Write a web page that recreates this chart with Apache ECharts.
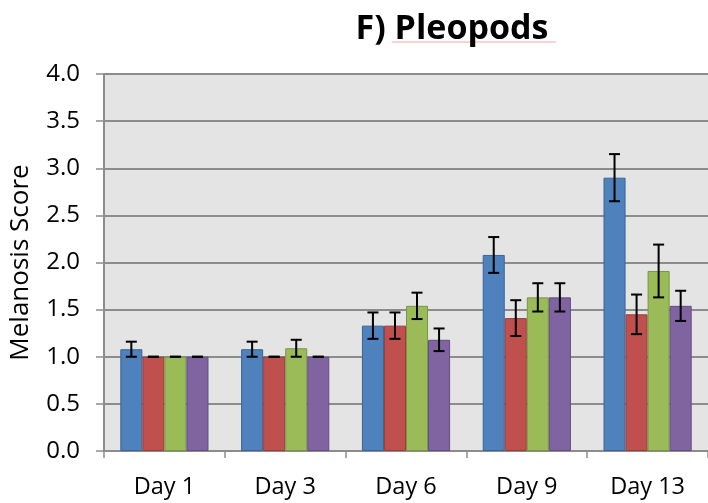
<!DOCTYPE html>
<html>
<head>
<meta charset="utf-8">
<script src="https://cdn.jsdelivr.net/npm/echarts@6/dist/echarts.min.js"></script>
<style>
html,body{margin:0;padding:0;background:#fff;}
#chart{width:708px;height:503px;}
</style>
</head>
<body>
<div id="chart"></div>
<script>
var categories = ['Day 1', 'Day 3', 'Day 6', 'Day 9', 'Day 13'];
var yTicks = ['0.0', '0.5', '1.0', '1.5', '2.0', '2.5', '3.0', '3.5', '4.0'];
var seriesNames = ['Series 1', 'Series 2', 'Series 3', 'Series 4'];
var blueVals = [1.08, 1.08, 1.33, 2.08, 2.90];
var blueErr = [0.08, 0.08, 0.14, 0.19, 0.25];
var redVals = [1.00, 1.00, 1.33, 1.41, 1.45];
var redErr = [0.00, 0.00, 0.14, 0.19, 0.21];
var greenVals = [1.00, 1.09, 1.54, 1.63, 1.91];
var greenErr = [0.00, 0.09, 0.14, 0.15, 0.28];
var purpleVals = [1.00, 1.00, 1.18, 1.63, 1.54];
var purpleErr = [0.00, 0.00, 0.12, 0.15, 0.16];

var allVals = [blueVals, redVals, greenVals, purpleVals];
var allErr = [blueErr, redErr, greenErr, purpleErr];
var fills = ['#4F81BD', '#C0504D', '#9BBB59', '#8064A2'];
var borders = ['#3A6596', '#983D3A', '#7A9544', '#634D81'];
var CAT_GAP = 0.27;

var chart = echarts.init(document.getElementById('chart'), null, {renderer: 'canvas'});

var series = [];
for (var s = 0; s < 4; s++) {
  series.push({
    name: seriesNames[s],
    type: 'bar',
    data: allVals[s],
    barGap: '0%',
    barCategoryGap: (CAT_GAP * 100) + '%',
    itemStyle: {color: fills[s], borderColor: borders[s], borderWidth: 1},
    emphasis: {disabled: true},
    z: 2
  });
}

var errData = [];
for (var s2 = 0; s2 < 4; s2++) {
  for (var c = 0; c < categories.length; c++) {
    errData.push([c, allVals[s2][c], allErr[s2][c], s2]);
  }
}

series.push({
  type: 'custom',
  name: 'errors',
  data: errData,
  z: 5,
  silent: true,
  renderItem: function (params, api) {
    var ci = api.value(0), v = api.value(1), e = api.value(2), si = api.value(3);
    var band = api.size([1, 0])[0];
    var barW = band * (1 - CAT_GAP) / 4;
    var center = api.coord([ci, v]);
    var x = center[0] + (si - 1.5) * barW;
    var yTop = api.coord([ci, v + e])[1];
    var yBot = api.coord([ci, v - e])[1];
    var cap = 5.5;
    var st = {stroke: '#000', lineWidth: 2};
    return {
      type: 'group',
      children: [
        {type: 'line', shape: {x1: x, y1: yTop, x2: x, y2: yBot}, style: st},
        {type: 'line', shape: {x1: x - cap, y1: yTop, x2: x + cap, y2: yTop}, style: st},
        {type: 'line', shape: {x1: x - cap, y1: yBot, x2: x + cap, y2: yBot}, style: st}
      ]
    };
  }
});

var option = {
  animation: false,
  title: {
    text: 'F) Pleopods',
    left: 452,
    textAlign: 'center',
    top: 12,
    padding: 0,
    textStyle: {fontFamily: 'Open Sans', fontWeight: 'bold', fontSize: 34, color: '#000'}
  },
  graphic: [{
    type: 'line',
    shape: {x1: 392, y1: 42, x2: 556, y2: 42},
    style: {stroke: '#F4A6A6', lineWidth: 1.2},
    silent: true
  }],
  grid: {
    left: 104, top: 74, width: 610, bottom: 52,
    show: true, backgroundColor: '#E4E4E4', borderWidth: 0,
    containLabel: false
  },
  xAxis: {
    type: 'category',
    data: categories,
    axisLine: {lineStyle: {color: '#8C8C8C', width: 2}},
    axisTick: {show: true, length: 7, lineStyle: {color: '#8C8C8C', width: 1.5}},
    axisLabel: {fontFamily: 'Open Sans', fontSize: 23.5, color: '#000', margin: 24}
  },
  yAxis: {
    type: 'value',
    min: 0, max: 4, interval: 0.5,
    name: 'Melanosis Score',
    nameLocation: 'middle',
    nameGap: 70,
    nameRotate: 90,
    nameTextStyle: {fontFamily: 'Open Sans', fontSize: 26, color: '#000'},
    axisLine: {show: true, lineStyle: {color: '#8C8C8C', width: 2}},
    axisTick: {show: true, length: 8, lineStyle: {color: '#8C8C8C', width: 1.5}},
    axisLabel: {
      fontFamily: 'Open Sans', fontSize: 24, color: '#000', margin: 24,
      formatter: function (val) { return yTicks[Math.round(val / 0.5)]; }
    },
    splitLine: {show: true, lineStyle: {color: '#8C8C8C', width: 2}}
  },
  series: series
};
chart.setOption(option);
</script>
</body>
</html>
